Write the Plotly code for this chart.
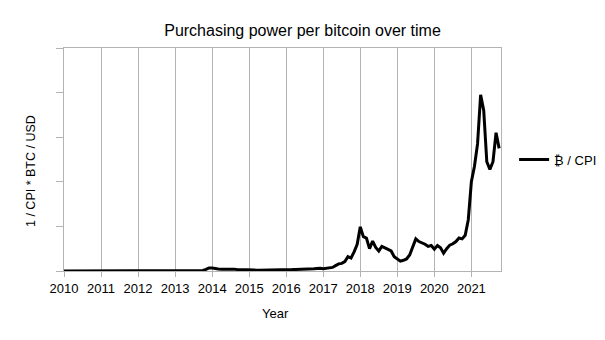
import plotly.graph_objects as go
import pandas as pd

# Monthly purchasing power per bitcoin (arbitrary units, 1 / CPI * BTC / USD), Jan 2010 .. Oct 2021
v2010 = [0.0000, 0.0000, 0.0000, 0.0000, 0.0000, 0.0000, 0.0001, 0.0001, 0.0001, 0.0001, 0.0002, 0.0002]
v2011 = [0.0003, 0.0006, 0.0006, 0.0010, 0.0050, 0.0011, 0.0010, 0.0008, 0.0005, 0.0003, 0.0002, 0.0003]
v2012 = [0.0005, 0.0004, 0.0004, 0.0004, 0.0004, 0.0005, 0.0006, 0.0008, 0.0009, 0.0009, 0.0009, 0.0010]
v2013 = [0.0012, 0.0020, 0.0050, 0.0100, 0.0090, 0.0080, 0.0070, 0.0080, 0.0100, 0.0120, 0.0350, 0.0680]
v2014 = [0.0650, 0.0500, 0.0450, 0.0400, 0.0420, 0.0480, 0.0460, 0.0420, 0.0350, 0.0300, 0.0310, 0.0280]
v2015 = [0.0200, 0.0190, 0.0200, 0.0190, 0.0190, 0.0190, 0.0230, 0.0200, 0.0190, 0.0210, 0.0270, 0.0350]
v2016 = [0.0340, 0.0330, 0.0330, 0.0360, 0.0360, 0.0510, 0.0530, 0.0480, 0.0490, 0.0510, 0.0560, 0.0620]
v2017 = [0.0500, 0.0600, 0.0700, 0.0800, 0.1200, 0.1600, 0.1700, 0.2100, 0.3200, 0.2900, 0.4300, 0.6000]
v2018 = [0.9900, 0.7700, 0.7400, 0.5000, 0.6700, 0.5300, 0.4500, 0.5500, 0.5200, 0.4800, 0.4500, 0.3200]
v2019 = [0.2600, 0.2200, 0.2400, 0.2700, 0.3600, 0.5200, 0.7200, 0.6600, 0.6300, 0.6000, 0.5500, 0.5700]
v2020 = [0.4900, 0.5700, 0.5200, 0.4000, 0.5000, 0.5800, 0.6100, 0.6600, 0.7400, 0.7200, 0.8000, 1.1500]
v2021 = [2.0000, 2.3500, 2.8500, 3.9500, 3.6000, 2.4500, 2.2800, 2.4500, 3.1000, 2.7500]

values = v2010 + v2011 + v2012 + v2013 + v2014 + v2015 + v2016 + v2017 + v2018 + v2019 + v2020 + v2021
months = pd.date_range("2010-01-01", periods=len(values), freq="MS")
years = [m.year + (m.month - 1) / 12 for m in months]

year_ticks = list(range(2010, 2022))
year_labels = [str(y) for y in year_ticks]

title_text = "Purchasing power per bitcoin over time"
x_title = "Year"
y_title = "1 / CPI * BTC / USD"
series_name = "₿ / CPI"

FONT = "Liberation Sans, Arial, sans-serif"
GRID = "#b3b3b3"

fig = go.Figure()
fig.add_trace(go.Scatter(
    x=years, y=values, mode="lines", name=series_name,
    line=dict(color="#000000", width=3), cliponaxis=False,
    showlegend=True,
))

fig.update_layout(
    width=605, height=340,
    margin=dict(l=64, r=104, t=48, b=69, autoexpand=False),
    paper_bgcolor="white", plot_bgcolor="white",
    font=dict(family=FONT, size=13, color="#000000"),
    title=dict(text=title_text, x=0.5, xref="container", xanchor="center",
               y=1 - 30 / 340, yref="container", yanchor="middle",
               font=dict(size=16, color="#000000")),
    showlegend=True,
    legend=dict(x=1.03, y=0.5, xanchor="left", yanchor="middle",
                font=dict(size=13), bgcolor="rgba(0,0,0,0)"),
)

fig.update_xaxes(
    range=[2010, 2021.8], tickvals=year_ticks, ticktext=year_labels,
    showgrid=True, gridcolor=GRID, gridwidth=1,
    showline=True, linecolor=GRID, linewidth=1, mirror=True,
    ticks="outside", ticklen=5, tickcolor=GRID,
    zeroline=False, tickfont=dict(size=13),
)
fig.update_yaxes(
    range=[0, 5], dtick=1, tick0=0,
    showgrid=False, showticklabels=False,
    showline=True, linecolor=GRID, linewidth=1, mirror=True,
    ticks="outside", ticklen=7, tickcolor=GRID, zeroline=False,
)

fig.add_annotation(text=x_title, xref="paper", yref="paper",
                   x=(275.5 - 64) / 437, y=-(313 - 271) / 223,
                   showarrow=False, xanchor="center", yanchor="middle",
                   font=dict(size=13))
fig.add_annotation(text=y_title, xref="paper", yref="paper",
                   x=-(64 - 31) / 437, y=(271 - 171) / 223, textangle=-90,
                   showarrow=False, xanchor="center", yanchor="middle",
                   font=dict(size=12.5))

fig.write_html("out.html")
